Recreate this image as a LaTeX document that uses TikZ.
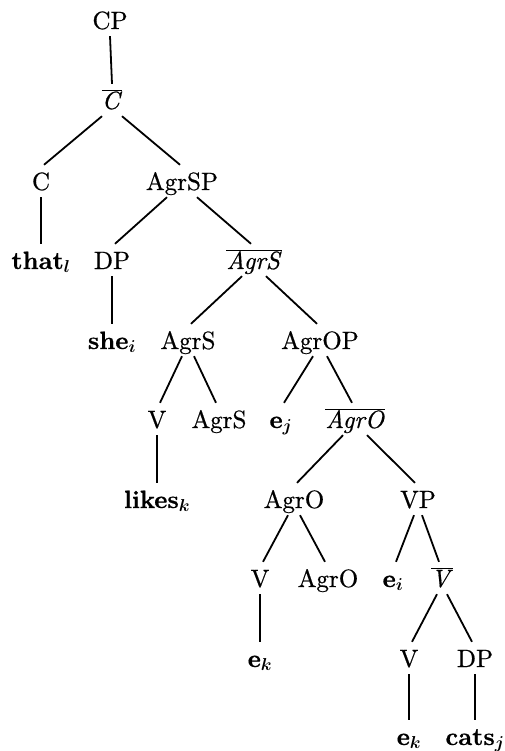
\documentclass[tikz,border=0pt]{standalone}
\usepackage{bm}
\usepackage{fontspec}
\setmainfont{lmroman10-regular.otf}[BoldFont=lmroman10-bold.otf, ItalicFont=lmroman10-italic.otf, FakeBold=0.6]
\begin{document}
\begin{tikzpicture}[x=1pt,y=-1pt,
  lab/.style={font=\fontsize{25}{30}\selectfont, inner xsep=0pt, inner ysep=2pt, text height=23pt, text depth=5pt},
  edge/.style={line width=1.8pt}]
\useasboundingbox (0,0) rectangle (505,751);
\newcommand{\lf}[2]{\textbf{#1}$_{\bm{#2}}$}
\newcommand{\ovl}[1]{$\overline{\mbox{\itshape #1\/}}$}
% nodes
\node[lab] (cp) at (110,20) {CP};
\node[lab] (cbar) at (112,100) {\ovl{C}};
\node[lab] (c) at (41,181) {C};
\node[lab] (agrsp) at (182,181) {AgrSP};
\node[lab] (that) at (41,260) {\lf{that}{l}};
\node[lab] (dp1) at (112,260) {DP};
\node[lab] (agrsbar) at (254,260) {\ovl{AgrS}};
\node[lab] (she) at (112,340) {\lf{she}{i}};
\node[lab] (agrs1) at (188,340) {AgrS};
\node[lab] (agrop) at (320,340) {AgrOP};
\node[lab] (v1) at (157,419) {V};
\node[lab] (agrs2) at (219,419) {AgrS};
\node[lab] (ej) at (281,419) {\lf{e}{j}};
\node[lab] (agrobar) at (355,419) {\ovl{AgrO}};
\node[lab] (likes) at (157,499) {\lf{likes}{k}};
\node[lab] (agro1) at (294,499) {AgrO};
\node[lab] (vp) at (418,499) {VP};
\node[lab] (v2) at (260,578) {V};
\node[lab] (agro2) at (328,578) {AgrO};
\node[lab] (ei) at (393,578) {\lf{e}{i}};
\node[lab] (vbar) at (442,578) {\ovl{V}};
\node[lab] (ek1) at (260,658) {\lf{e}{k}};
\node[lab] (v3) at (409,658) {V};
\node[lab] (dp2) at (475,658) {DP};
\node[lab] (ek2) at (409,736) {\lf{e}{k}};
\node[lab] (cats) at (475,736) {\lf{cats}{j}};
% edges
\draw[edge] (cp.south) -- (cbar.north);
\draw[edge] ([xshift=-10pt]cbar.south) -- ([xshift=3pt]c.north);
\draw[edge] ([xshift=10pt]cbar.south) -- ([xshift=-2pt]agrsp.north);
\draw[edge] (c.south) -- (that.north);
\draw[edge] ([xshift=-15pt]agrsp.south) -- ([xshift=3pt]dp1.north);
\draw[edge] ([xshift=15pt]agrsp.south) -- ([xshift=-3pt]agrsbar.north);
\draw[edge] (dp1.south) -- (she.north);
\draw[edge] ([xshift=-12pt]agrsbar.south) -- ([xshift=3pt]agrs1.north);
\draw[edge] ([xshift=12pt]agrsbar.south) -- ([xshift=-3pt]agrop.north);
\draw[edge] ([xshift=-6pt]agrs1.south) -- ([xshift=3pt]v1.north);
\draw[edge] ([xshift=6pt]agrs1.south) -- ([xshift=-3pt]agrs2.north);
\draw[edge] ([xshift=-7pt]agrop.south) -- ([xshift=3pt]ej.north);
\draw[edge] ([xshift=7pt]agrop.south) -- ([xshift=-3pt]agrobar.north);
\draw[edge] (v1.south) -- (likes.north);
\draw[edge] ([xshift=-12pt]agrobar.south) -- ([xshift=3pt]agro1.north);
\draw[edge] ([xshift=12pt]agrobar.south) -- ([xshift=-3pt]vp.north);
\draw[edge] ([xshift=-6pt]agro1.south) -- ([xshift=3pt]v2.north);
\draw[edge] ([xshift=6pt]agro1.south) -- ([xshift=-3pt]agro2.north);
\draw[edge] ([xshift=-4pt]vp.south) -- ([xshift=3pt]ei.north);
\draw[edge] ([xshift=4pt]vp.south) -- ([xshift=-3pt]vbar.north);
\draw[edge] (v2.south) -- (ek1.north);
\draw[edge] ([xshift=-5pt]vbar.south) -- ([xshift=3pt]v3.north);
\draw[edge] ([xshift=5pt]vbar.south) -- ([xshift=-3pt]dp2.north);
\draw[edge] (v3.south) -- (ek2.north);
\draw[edge] (dp2.south) -- (cats.north);
\end{tikzpicture}
\end{document}
